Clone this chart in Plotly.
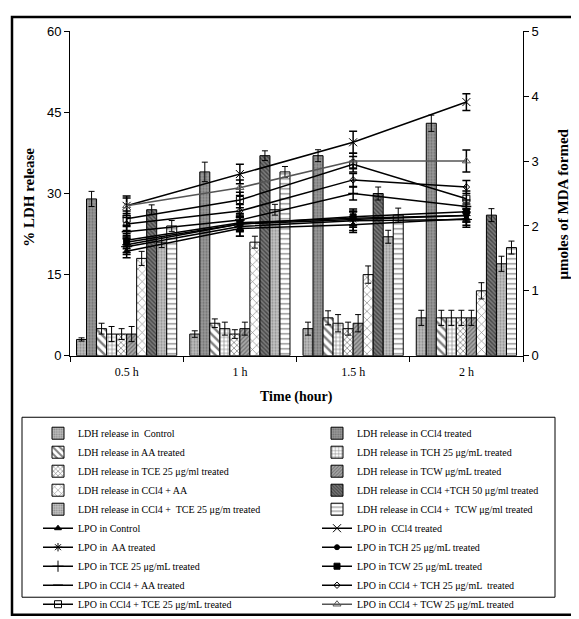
import plotly.graph_objects as go

# page is rendered with an 8px body margin; figure sized to fill the rest
W, H = 571, 619 - 8
OFF = 8

times = ["0.5 h", "1 h", "1.5 h", "2 h"]

ldh_names = [
    "LDH release in  Control",
    "LDH release in CCl4 treated",
    "LDH release in AA treated",
    "LDH release in TCH 25 μg/mL treated",
    "LDH release in TCE 25 μg/ml treated",
    "LDH release in TCW μg/mL treated",
    "LDH release in CCl4 + AA",
    "LDH release in CCl4 +TCH 50 μg/ml treated",
    "LDH release in CCl4 +  TCE 25 μg/m treated",
    "LDH release in CCl4 +  TCW μg/ml treated",
]

ldh_control = [3, 4, 5, 7]
ldh_ccl4 = [29, 34, 37, 43]
ldh_aa = [5, 6, 7, 7]
ldh_tch = [4, 5, 6, 7]
ldh_tce = [4, 4, 5, 7]
ldh_tcw = [4, 5, 6, 7]
ldh_ccl4_aa = [18, 21, 15, 12]
ldh_ccl4_tch = [27, 37, 30, 26]
ldh_ccl4_tce = [21, 27, 22, 17]
ldh_ccl4_tcw = [24, 34, 26, 20]

ldh_err_control = [0.3, 0.6, 1.2, 1.4]
ldh_err_ccl4 = [1.4, 1.8, 1.1, 1.5]
ldh_err_aa = [1.0, 0.8, 1.3, 1.4]
ldh_err_tch = [1.4, 1.2, 1.6, 1.4]
ldh_err_tce = [1.0, 0.8, 1.2, 1.4]
ldh_err_tcw = [1.4, 1.2, 1.6, 1.4]
ldh_err_ccl4_aa = [1.3, 1.1, 1.6, 1.5]
ldh_err_ccl4_tch = [0.9, 0.9, 1.2, 1.2]
ldh_err_ccl4_tce = [1.0, 1.0, 1.2, 1.4]
ldh_err_ccl4_tcw = [1.0, 1.0, 1.3, 1.2]

lpo_names = [
    "LPO in Control",
    "LPO in  CCl4 treated",
    "LPO in  AA treated",
    "LPO in TCH 25 μg/mL treated",
    "LPO in TCE 25 μg/mL treated",
    "LPO in TCW 25 μg/mL treated",
    "LPO in CCl4 + AA treated",
    "LPO in CCl4 + TCH 25 μg/mL  treated",
    "LPO in CCl4 + TCE 25 μg/mL treated",
    "LPO in CCl4 + TCW 25 μg/mL treated",
]

lpo_control = [1.61, 1.96, 2.02, 2.11]
lpo_ccl4 = [2.31, 2.80, 3.29, 3.91]
lpo_aa = [1.71, 2.03, 2.10, 2.16]
lpo_tch = [1.78, 2.05, 2.12, 2.16]
lpo_tce = [1.68, 1.99, 2.08, 2.10]
lpo_tcw = [1.75, 2.03, 2.14, 2.22]
lpo_ccl4_aa = [1.91, 2.09, 2.50, 2.30]
lpo_ccl4_tch = [2.03, 2.23, 2.71, 2.60]
lpo_ccl4_tce = [2.11, 2.40, 2.95, 2.42]
lpo_ccl4_tcw = [2.31, 2.59, 3.00, 3.00]

lpo_err_control = [0.10, 0.12, 0.12, 0.10]
lpo_err_ccl4 = [0.15, 0.15, 0.17, 0.13]
lpo_err_aa = [0.12, 0.12, 0.12, 0.10]
lpo_err_tch = [0.10, 0.12, 0.10, 0.10]
lpo_err_tce = [0.12, 0.15, 0.15, 0.12]
lpo_err_tcw = [0.10, 0.10, 0.12, 0.12]
lpo_err_ccl4_aa = [0.10, 0.10, 0.10, 0.10]
lpo_err_ccl4_tch = [0.10, 0.10, 0.10, 0.10]
lpo_err_ccl4_tce = [0.12, 0.12, 0.12, 0.12]
lpo_err_ccl4_tcw = [0.12, 0.12, 0.12, 0.17]

ldh_values = [ldh_control, ldh_ccl4, ldh_aa, ldh_tch, ldh_tce, ldh_tcw,
              ldh_ccl4_aa, ldh_ccl4_tch, ldh_ccl4_tce, ldh_ccl4_tcw]
ldh_errors = [ldh_err_control, ldh_err_ccl4, ldh_err_aa, ldh_err_tch, ldh_err_tce,
              ldh_err_tcw, ldh_err_ccl4_aa, ldh_err_ccl4_tch, ldh_err_ccl4_tce,
              ldh_err_ccl4_tcw]
lpo_values = [lpo_control, lpo_ccl4, lpo_aa, lpo_tch, lpo_tce, lpo_tcw,
              lpo_ccl4_aa, lpo_ccl4_tch, lpo_ccl4_tce, lpo_ccl4_tcw]
lpo_errors = [lpo_err_control, lpo_err_ccl4, lpo_err_aa, lpo_err_tch, lpo_err_tce,
              lpo_err_tcw, lpo_err_ccl4_aa, lpo_err_ccl4_tch, lpo_err_ccl4_tce,
              lpo_err_ccl4_tcw]

# bar fill styles: (bgcolor, shape, fgcolor, size, solidity)
bar_styles = [
    ("#bdbdbd", ".", "#555555", 3, 0.4),
    ("#9a9a9a", ".", "#444444", 3, 0.4),
    ("#ffffff", "\\", "#000000", 6, 0.4),
    ("#ffffff", "+", "#000000", 4, 0.3),
    ("#ffffff", "x", "#000000", 4, 0.35),
    ("#a8a8a8", "/", "#333333", 3, 0.4),
    ("#ffffff", "x", "#000000", 6, 0.2),
    ("#7a7a7a", "\\", "#111111", 3, 0.45),
    ("#c4c4c4", ".", "#555555", 3, 0.4),
    ("#ffffff", "-", "#000000", 5, 0.25),
]

# line markers: (symbol, size, color)
line_styles = [
    ("triangle-up", 6, "#000000"),
    ("x-thin-open", 8, "#000000"),
    ("asterisk-open", 7, "#000000"),
    ("circle", 5, "#000000"),
    ("cross-thin-open", 8, "#000000"),
    ("square", 6, "#000000"),
    ("line-ew-open", 7, "#000000"),
    ("diamond-open", 5, "#000000"),
    ("square-open", 7, "#000000"),
    ("triangle-up-open", 7, "#555555"),
]


def PX(x):
    return (x - OFF) / W


def PY(y):
    return (H - (y - OFF)) / H


fig = go.Figure()

for i, (name, vals, errs, st) in enumerate(zip(ldh_names, ldh_values, ldh_errors, bar_styles)):
    bg, shape, fg, size, sol = st
    fig.add_trace(go.Bar(
        x=times, y=vals, name=name, xaxis="x", yaxis="y",
        legend="legend" if i % 2 == 0 else "legend2",
        marker=dict(color=bg, line=dict(color="#000000", width=1),
                    pattern=dict(shape=shape, fgcolor=fg, bgcolor=bg,
                                 size=size, solidity=sol)),
        error_y=dict(type="data", array=errs, color="#000000",
                     thickness=1, width=3),
    ))

for i, (name, vals, errs, st) in enumerate(zip(lpo_names, lpo_values, lpo_errors, line_styles)):
    sym, size, col = st
    fig.add_trace(go.Scatter(
        x=times, y=vals, name=name, xaxis="x", yaxis="y2",
        legend="legend" if i % 2 == 0 else "legend2",
        mode="lines+markers",
        line=dict(color=col, width=1.5),
        marker=dict(symbol=sym, size=size, color=col,
                    line=dict(color=col, width=1.5 if sym == "line-ew-open" else 1)),
        error_y=dict(type="data", array=errs, color="#000000",
                     thickness=1.5, width=4),
    ))

legend_font = dict(family="Liberation Serif", size=10, color="#000000")

fig.update_layout(
    width=W, height=H, autosize=False,
    margin=dict(l=0, r=0, t=0, b=0),
    paper_bgcolor="white", plot_bgcolor="white",
    barmode="group", bargap=0.115, bargroupgap=0,
    showlegend=True,
    font=dict(family="Liberation Serif", color="#000000"),
    xaxis=dict(domain=[PX(70), PX(523)], anchor="y", type="category",
               showline=True, linecolor="#000000", linewidth=1,
               ticks="outside", ticklen=5, tickcolor="#000000",
               tickson="boundaries", showgrid=False, zeroline=False,
               ticklabelstandoff=5,
               tickfont=dict(family="Liberation Serif", size=12, color="#000000")),
    yaxis=dict(domain=[PY(362), PY(25)], anchor="x", range=[0, 60],
               tickvals=[0, 15, 30, 45, 60],
               showline=True, linecolor="#000000", linewidth=1,
               ticks="outside", ticklen=5, tickcolor="#000000",
               showgrid=False, zeroline=False,
               tickfont=dict(family="Liberation Sans", size=13, color="#000000")),
    yaxis2=dict(domain=[PY(362), PY(25)], anchor="x", overlaying="y", side="right",
                range=[0, 5], tickvals=[0, 1, 2, 3, 4, 5],
                showline=True, linecolor="#000000", linewidth=1,
                ticks="outside", ticklen=5, tickcolor="#000000",
                showgrid=False, zeroline=False,
                tickfont=dict(family="Liberation Sans", size=13, color="#000000")),
    legend=dict(orientation="v", x=PX(38), xanchor="left",
                y=PY(427.5), yanchor="top", traceorder="normal",
                borderwidth=0, bgcolor="rgba(0,0,0,0)", font=legend_font),
    legend2=dict(orientation="v", x=PX(317), xanchor="left",
                 y=PY(427.5), yanchor="top", traceorder="normal",
                 borderwidth=0, bgcolor="rgba(0,0,0,0)", font=legend_font),
    annotations=[
        dict(text="<b>% LDH release</b>", x=PX(29), y=PY(198),
             xref="paper", yref="paper", textangle=-90, showarrow=False,
             xanchor="center", yanchor="middle",
             font=dict(family="Liberation Serif", size=15, color="#000000")),
        dict(text="<b>μmoles of MDA formed</b>", x=PX(563), y=PY(205),
             xref="paper", yref="paper", textangle=-90, showarrow=False,
             xanchor="center", yanchor="middle",
             font=dict(family="Liberation Serif", size=15, color="#000000")),
        dict(text="<b>Time (hour)</b>", x=PX(296), y=PY(405),
             xref="paper", yref="paper", showarrow=False,
             xanchor="center", yanchor="middle",
             font=dict(family="Liberation Serif", size=14, color="#000000")),
    ],
    shapes=[
        dict(type="rect", xref="paper", yref="paper",
             x0=PX(12), x1=1.02, y0=-0.02, y1=PY(10),
             line=dict(color="#000000", width=2.5), fillcolor="rgba(0,0,0,0)"),
        dict(type="rect", xref="paper", yref="paper",
             x0=PX(22), x1=PX(555), y0=PY(613), y1=PY(426),
             line=dict(color="#000000", width=1), fillcolor="rgba(0,0,0,0)"),
    ],
)

fig.write_html("out.html")
